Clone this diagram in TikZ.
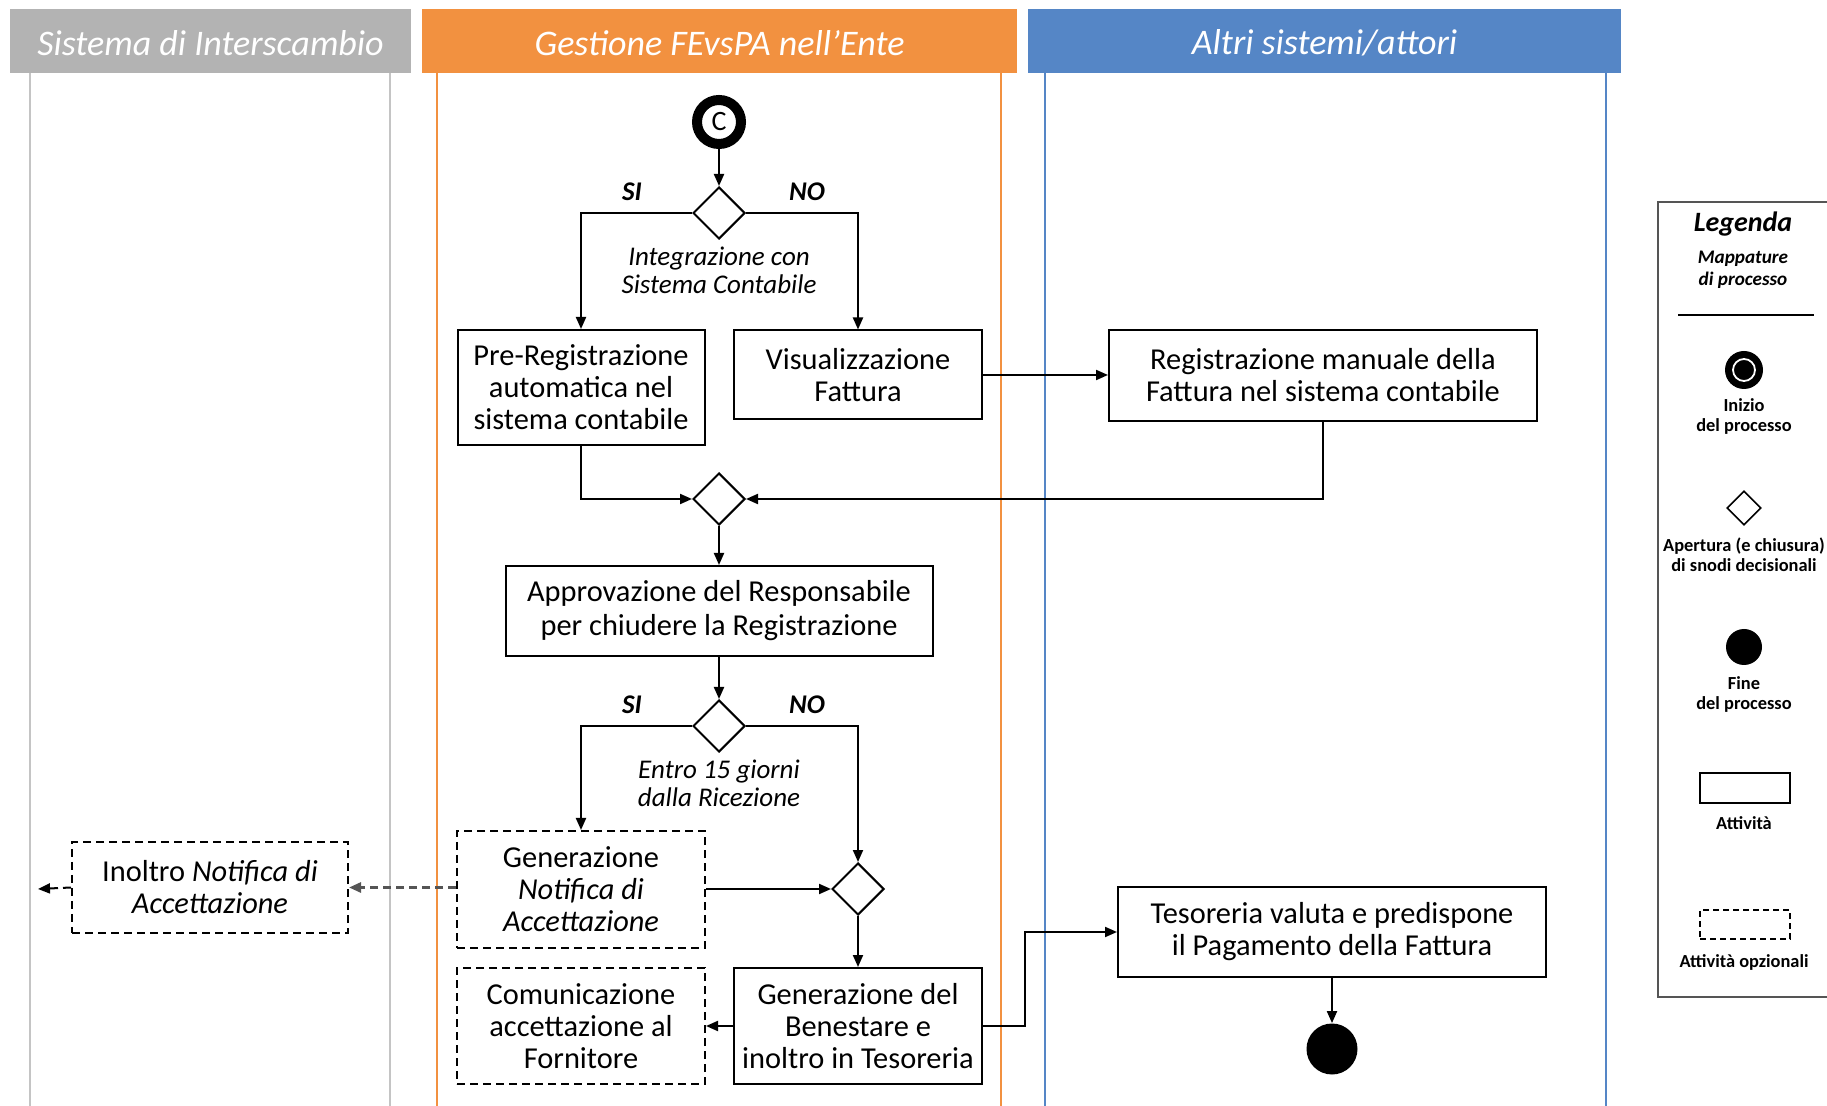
\documentclass[tikz,border=0pt]{standalone}
\usepackage{fontspec}
\setmainfont{Carlito}
\usetikzlibrary{shapes.geometric,arrows.meta}
\definecolor{hgray}{HTML}{B3B3B3}
\definecolor{lgray}{HTML}{C4C4C4}
\definecolor{horange}{HTML}{F29140}
\definecolor{hblue}{HTML}{5586C6}
\definecolor{dgray}{HTML}{555555}
\begin{document}
\begin{tikzpicture}[x=0.5pt,y=-0.5pt,
  header/.style={inner sep=0,text=white,font=\fontsize{18}{20}\selectfont\itshape},
  box/.style={draw=black,line width=1pt,align=center,inner sep=1pt,font=\fontsize{15.2}{16}\selectfont},
  optbox/.style={box,dash pattern=on 4pt off 2.5pt},
  dec/.style={diamond,draw=black,line width=1pt,minimum width=26pt,minimum height=26pt,inner sep=0},
  arr/.style={line width=1pt,-{Triangle[length=6pt,width=5pt]}},
  lbl/.style={font=\fontsize{13.5}{14}\selectfont\itshape\bfseries},
  cond/.style={align=center,font=\fontsize{13.5}{14}\selectfont\itshape},
  lgtxt/.style={align=center,font=\fontsize{9.2}{10}\selectfont\bfseries}]
\useasboundingbox (0,0) rectangle (1827,1106);
% lanes
\fill[hgray] (10,9) rectangle (411,73);
\fill[horange] (422,9) rectangle (1017,73);
\fill[hblue] (1028,9) rectangle (1621,73);
\node[header] (h1) at (210.5,43) {Sistema di Interscambio};
\node[header] (h2) at (719.5,43) {Gestione FEvsPA nell’Ente};
\node[header] (h3) at (1324.5,43) {Altri sistemi/attori};
\draw[lgray,line width=0.8pt] (30,73) -- (30,1106) (390,73) -- (390,1106);
\draw[horange,line width=0.8pt] (437,73) -- (437,1106) (1001,73) -- (1001,1106);
\draw[hblue,line width=0.8pt] (1045,73) -- (1045,1106) (1606,73) -- (1606,1106);
% nodes
\node[circle,draw=black,fill=white,line width=5pt,minimum size=22pt,inner sep=0,font=\fontsize{14}{14}\selectfont] (start) at (719,122) {C};
\node[dec] (d1) at (719,213) {};
\node[lbl] (si1) at (632,192) {SI};
\node[lbl] (no1) at (807,192) {NO};
\node[cond] (c1) at (719,270) {Integrazione con\\Sistema Contabile};
\node[box,minimum width=123.5pt,minimum height=57.5pt] (prereg) at (581,387.5) {Pre-Registrazione\\automatica nel\\sistema contabile};
\node[box,minimum width=124pt,minimum height=44.5pt] (visual) at (858,375) {Visualizzazione\\Fattura};
\node[box,minimum width=214pt,minimum height=45.5pt] (regman) at (1323,375.5) {Registrazione manuale della\\Fattura nel sistema contabile};
\node[dec] (d2) at (719,499) {};
\node[box,minimum width=213.5pt,minimum height=45pt,font=\fontsize{15.2}{17}\selectfont] (approv) at (719,611) {Approvazione del Responsabile\\per chiudere la Registrazione};
\node[dec] (d3) at (719,726) {};
\node[lbl] (si2) at (632,705) {SI};
\node[lbl] (no2) at (807,705) {NO};
\node[cond] (c2) at (719,783) {Entro 15 giorni\\dalla Ricezione};
\node[optbox,minimum width=124pt,minimum height=58.5pt] (gennot) at (581,889.5) {Generazione\\\textit{Notifica di}\\\textit{Accettazione}};
\node[dec] (d4) at (858,889) {};
\node[optbox,minimum width=138pt,minimum height=45.5pt] (inoltro) at (210,887.5) {Inoltro \textit{Notifica di}\\\textit{Accettazione}};
\coordinate (leftend) at (38,889);
\node[box,minimum width=124pt,minimum height=58pt] (benest) at (858,1026) {Generazione del\\Benestare e\\inoltro in Tesoreria};
\node[optbox,minimum width=124pt,minimum height=58pt] (comun) at (581,1026) {Comunicazione\\accettazione al\\Fornitore};
\node[box,minimum width=214pt,minimum height=45pt] (tesor) at (1332,932) {Tesoreria valuta e predispone\\il Pagamento della Fattura};
\node[circle,fill=black,minimum size=25.5pt,inner sep=0] (endc) at (1332,1049) {};
\coordinate (bend) at (1025,932);
% connectors
\draw[arr] (start) -- (d1);
\draw[arr] (d1.west) -| (prereg.north);
\draw[arr] (d1.east) -| (visual.north);
\draw[arr] (visual.east) -- (regman.west |- visual.east);
\draw[arr] (prereg.south) |- (d2.west);
\draw[arr] (regman.south) |- (d2.east);
\draw[arr] (d2) -- (approv);
\draw[arr] (approv) -- (d3);
\draw[arr] (d3.west) -| (gennot.north);
\draw[arr] (d3.east) -| (d4.north);
\draw[arr] (gennot.east |- d4.west) -- (d4.west);
\draw[arr,dgray,line width=1.4pt,dash pattern=on 4pt off 2.5pt] (gennot.west |- inoltro.east) -- (inoltro.east);
\draw[arr,dash pattern=on 4pt off 2.5pt] (inoltro.west) -- (leftend);
\draw[arr] (d4) -- (benest);
\draw[arr] (benest.west) -- (comun.east);
\draw[arr] (benest.east) -| (bend) -- (tesor.west);
\draw[arr] (tesor) -- (endc);
% legend
\draw[dgray,line width=0.9pt] (1830,202) -- (1658,202) -- (1658,997) -- (1830,997);
\node[font=\fontsize{14}{15}\selectfont\bfseries\itshape] (lgtitle) at (1743,224) {Legenda};
\node[align=center,font=\fontsize{9.6}{11}\selectfont\bfseries\itshape] (lgsub) at (1743,270) {Mappature\\di processo};
\draw[black,line width=0.8pt] (1678,315) -- (1814,315);
\node[circle,fill=black,minimum size=19pt,inner sep=0] (lgstart) at (1744,370) {};
\node[circle,draw=white,fill=black,line width=0.9pt,minimum size=11pt,inner sep=0] (lgstartin) at (1744,370) {};
\node[lgtxt] (lgstartt) at (1744,416) {Inizio\\del processo};
\node[diamond,draw=black,line width=0.8pt,minimum width=17pt,minimum height=17pt,inner sep=0] (lgdiam) at (1744,508) {};
\node[lgtxt] (lgdiamt) at (1744,555) {Apertura (e chiusura)\\di snodi decisionali};
\node[circle,fill=black,minimum size=18pt,inner sep=0] (lgend) at (1744,647) {};
\node[lgtxt] (lgendt) at (1744,694) {Fine\\del processo};
\node[draw=black,line width=0.8pt,minimum width=45pt,minimum height=15pt,inner sep=0] (lgrect) at (1745,788) {};
\node[lgtxt] (lgrectt) at (1744,823) {Attività};
\node[draw=black,line width=0.8pt,dash pattern=on 3pt off 2pt,minimum width=45pt,minimum height=14.5pt,inner sep=0] (lgdash) at (1745,924.5) {};
\node[lgtxt] (lgdasht) at (1744,962) {Attività opzionali};
\end{tikzpicture}
\end{document}
